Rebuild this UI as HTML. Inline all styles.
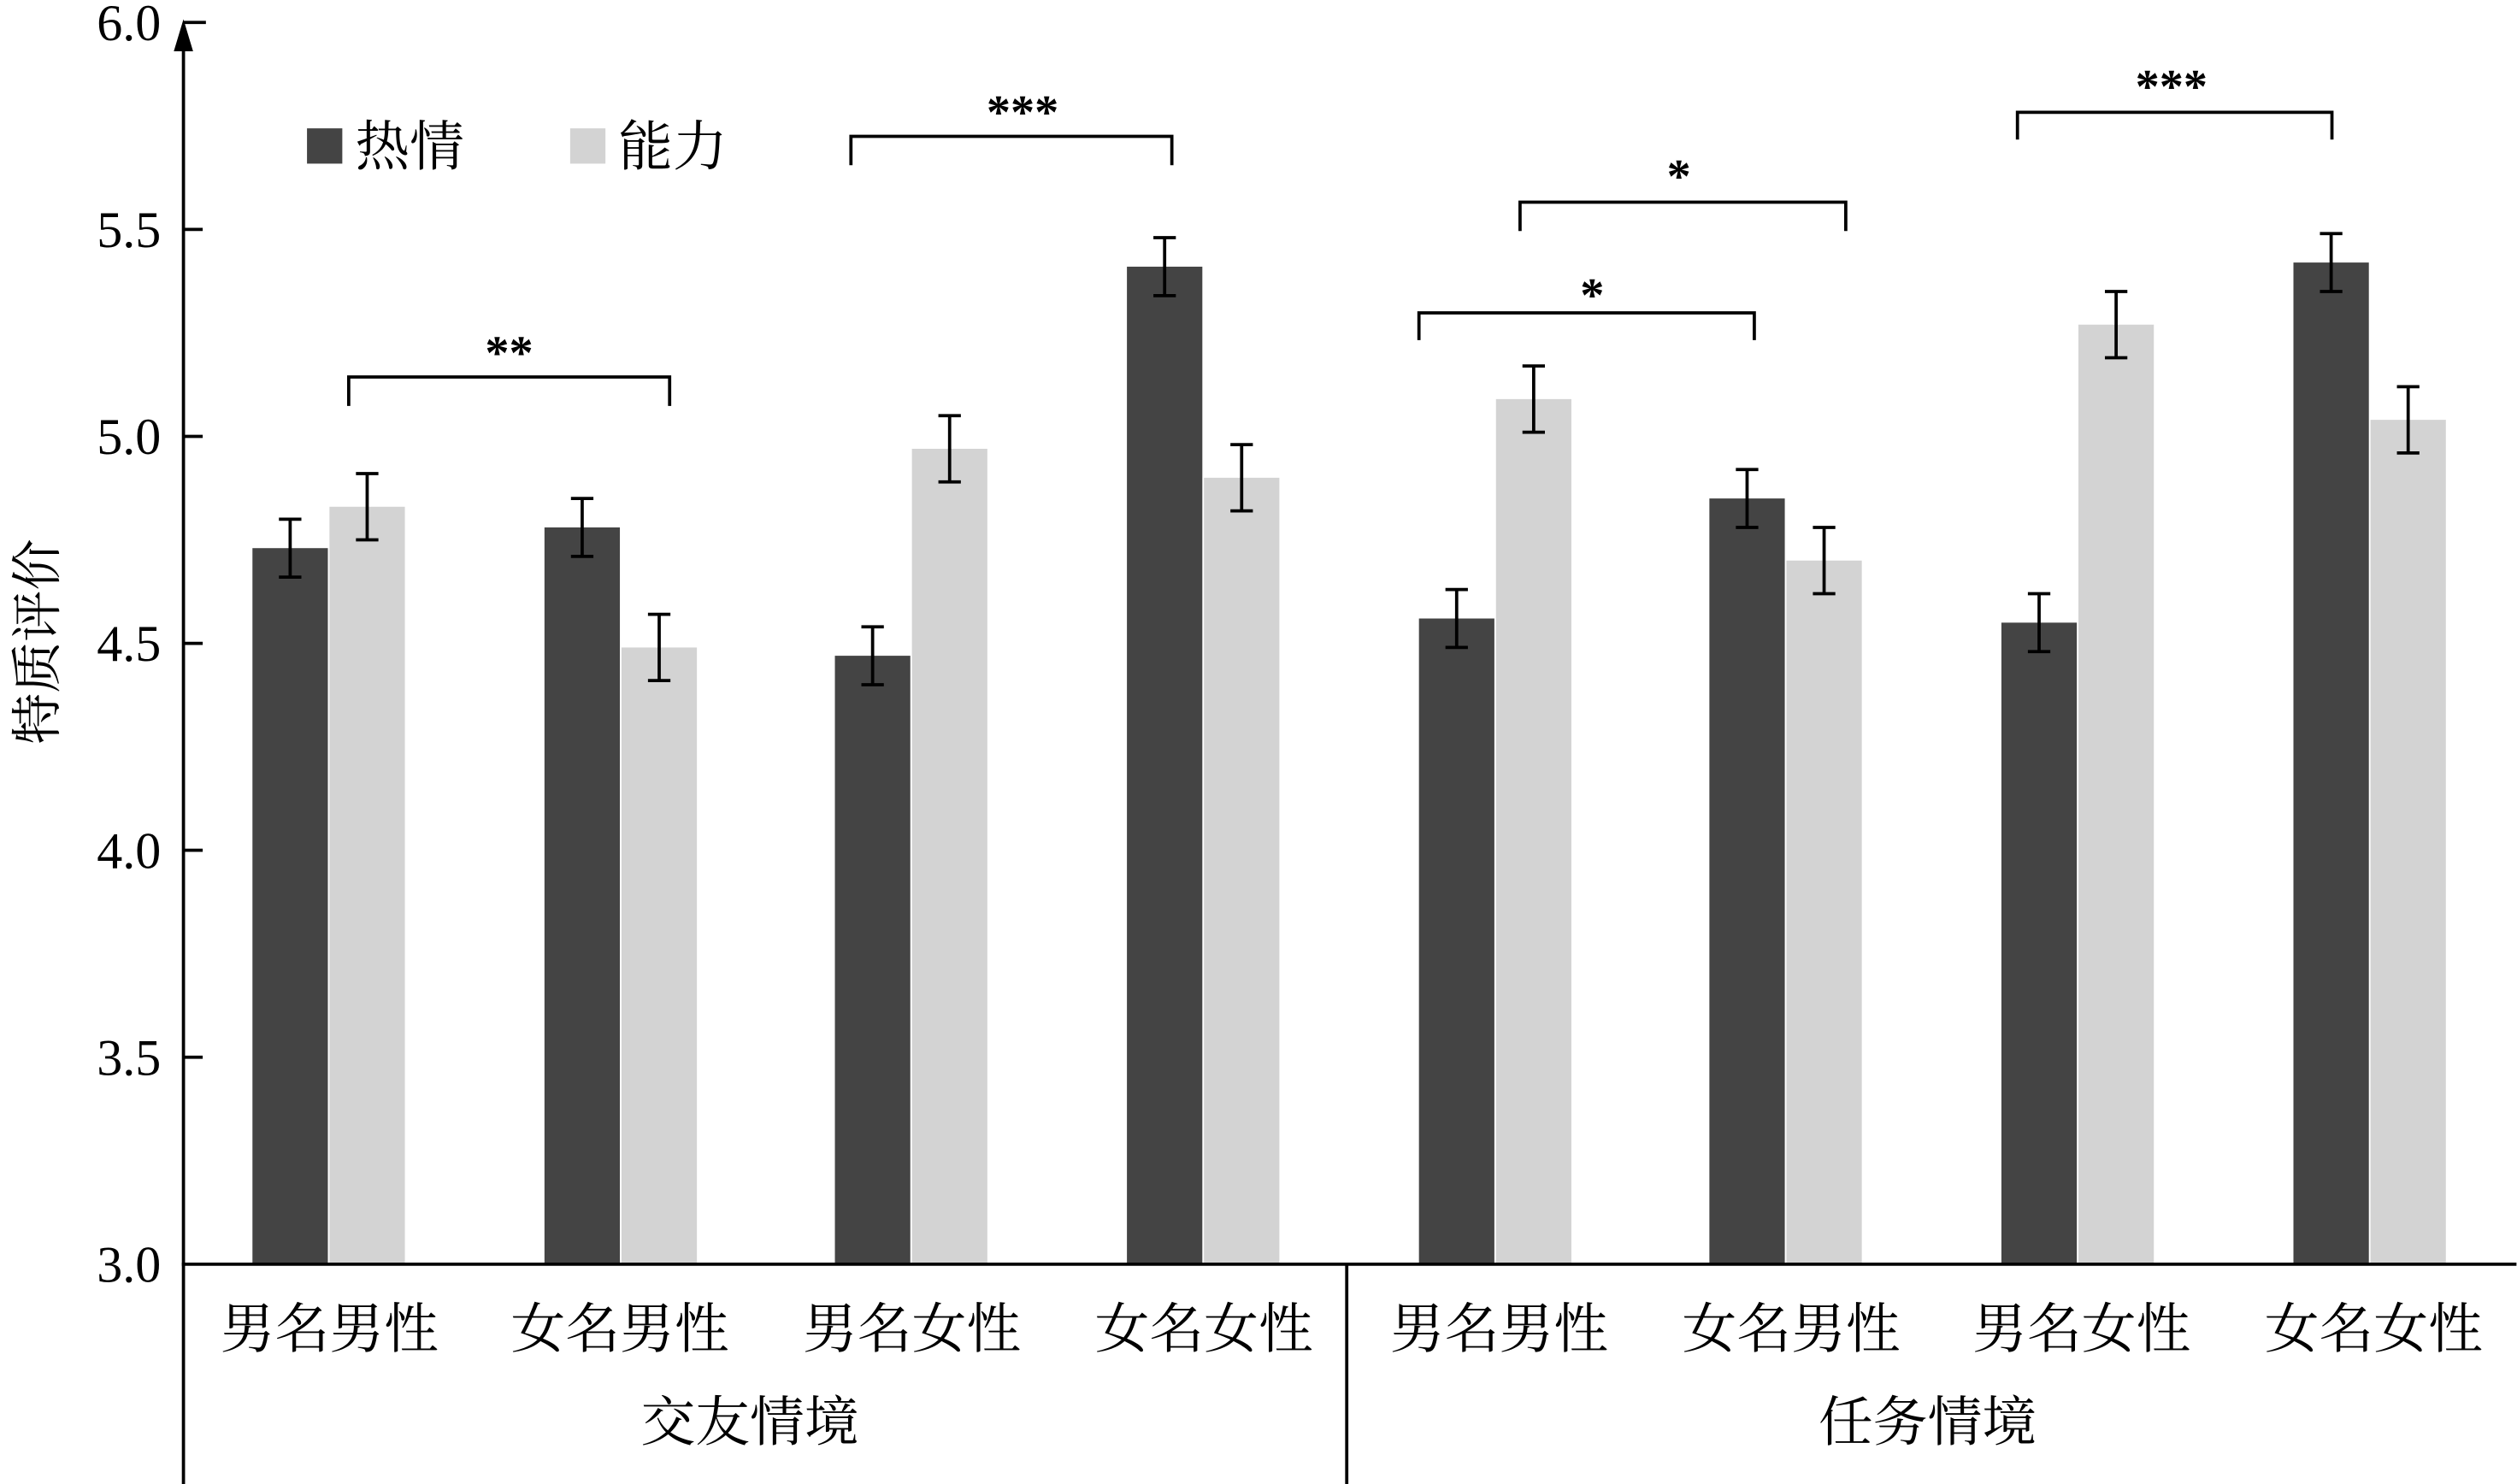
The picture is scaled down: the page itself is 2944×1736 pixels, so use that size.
<!DOCTYPE html>
<html><head><meta charset="utf-8"><style>
html,body{margin:0;padding:0;background:#fff;}
svg{display:block;}
text{font-family:"Liberation Serif","Noto Serif CJK SC","Noto Sans CJK SC",serif;fill:#000;}
</style></head><body>
<svg width="2944" height="1736" viewBox="0 0 1568 925" xmlns="http://www.w3.org/2000/svg">
<rect width="1568" height="925" fill="#fff"/>
<g id="bars"></g>
<!-- axes -->
<line x1="114" y1="20" x2="114" y2="925" stroke="#000" stroke-width="2"/>
<polygon points="114,12 108,32 120,32" fill="#000"/>
<line x1="113" y1="788" x2="1568" y2="788" stroke="#000" stroke-width="2"/>
<line x1="839" y1="788" x2="839" y2="925" stroke="#000" stroke-width="2"/>
<g stroke="#000" stroke-width="2">
<line x1="114" y1="14" x2="128" y2="14"/>
<line x1="114" y1="143" x2="126" y2="143"/>
<line x1="114" y1="272" x2="126" y2="272"/>
<line x1="114" y1="401" x2="126" y2="401"/>
<line x1="114" y1="530" x2="126" y2="530"/>
<line x1="114" y1="659" x2="126" y2="659"/>
</g>
<g font-size="32" text-anchor="end">
<text x="100" y="25">6.0</text>
<text x="100" y="154">5.5</text>
<text x="100" y="283">5.0</text>
<text x="100" y="412">4.5</text>
<text x="100" y="541">4.0</text>
<text x="100" y="670">3.5</text>
<text x="100" y="799">3.0</text>
</g>
<text transform="translate(34,400) rotate(-90)" font-size="32" text-anchor="middle">特质评价</text>
<!-- legend -->
<rect x="191" y="80" width="22" height="22" fill="#444"/>
<text x="221" y="103" font-size="34">热情</text>
<rect x="355" y="80" width="22" height="22" fill="#d3d3d3"/>
<text x="385" y="103" font-size="34">能力</text>
<!-- category labels -->
<g font-size="34" text-anchor="middle">
<text x="205" y="840">男名男性</text>
<text x="386" y="840">女名男性</text>
<text x="568" y="840">男名女性</text>
<text x="750" y="840">女名女性</text>
<text x="934" y="840">男名男性</text>
<text x="1116" y="840">女名男性</text>
<text x="1297" y="840">男名女性</text>
<text x="1479" y="840">女名女性</text>
<text x="467" y="898">交友情境</text>
<text x="1201" y="898">任务情境</text>
</g>
<!-- brackets -->
<g stroke="#000" stroke-width="2" fill="none">
<polyline points="217,253 217,235 417,235 417,253"/>
<polyline points="530,103 530,85 730,85 730,103"/>
<polyline points="884,212 884,195 1093,195 1093,212"/>
<polyline points="947,144 947,126 1150,126 1150,144"/>
<polyline points="1257,87 1257,70 1453,70 1453,87"/>
</g>
<g font-size="30" font-weight="bold" text-anchor="middle">
<text x="317" y="230">**</text>
<text x="637" y="80">***</text>
<text x="992" y="194">*</text>
<text x="1046" y="120">*</text>
<text x="1353" y="64">***</text>
</g>
<script>
var g=document.getElementById('bars');
var ns='http://www.w3.org/2000/svg';
var xs=[157,339,520,702,884,1065,1247,1429];
var dk=[4.73,4.78,4.47,5.41,4.56,4.85,4.55,5.42];
var lt=[4.83,4.49,4.97,4.90,5.09,4.70,5.27,5.04];
var de=[0.07,0.07,0.07,0.07,0.07,0.07,0.07,0.07];
var le=[0.08,0.08,0.08,0.08,0.08,0.08,0.08,0.08];
function Y(v){return 788-(v-3)*258;}
function el(t,a){var e=document.createElementNS(ns,t);for(var k in a)e.setAttribute(k,a[k]);g.appendChild(e);}
function err(cx,v,e){var t=Y(v+e),b=Y(v-e);
el('line',{x1:cx,y1:t,x2:cx,y2:b,stroke:'#000','stroke-width':2});
el('line',{x1:cx-7,y1:t,x2:cx+7,y2:t,stroke:'#000','stroke-width':2});
el('line',{x1:cx-7,y1:b,x2:cx+7,y2:b,stroke:'#000','stroke-width':2});}
for(var i=0;i<8;i++){
var x=xs[i];
el('rect',{x:x,y:Y(dk[i]),width:47,height:788-Y(dk[i]),fill:'#444'});
el('rect',{x:x+48,y:Y(lt[i]),width:47,height:788-Y(lt[i]),fill:'#d3d3d3'});
err(x+23.5,dk[i],de[i]);err(x+71.5,lt[i],le[i]);
}
</script>
</svg>
</body></html>
